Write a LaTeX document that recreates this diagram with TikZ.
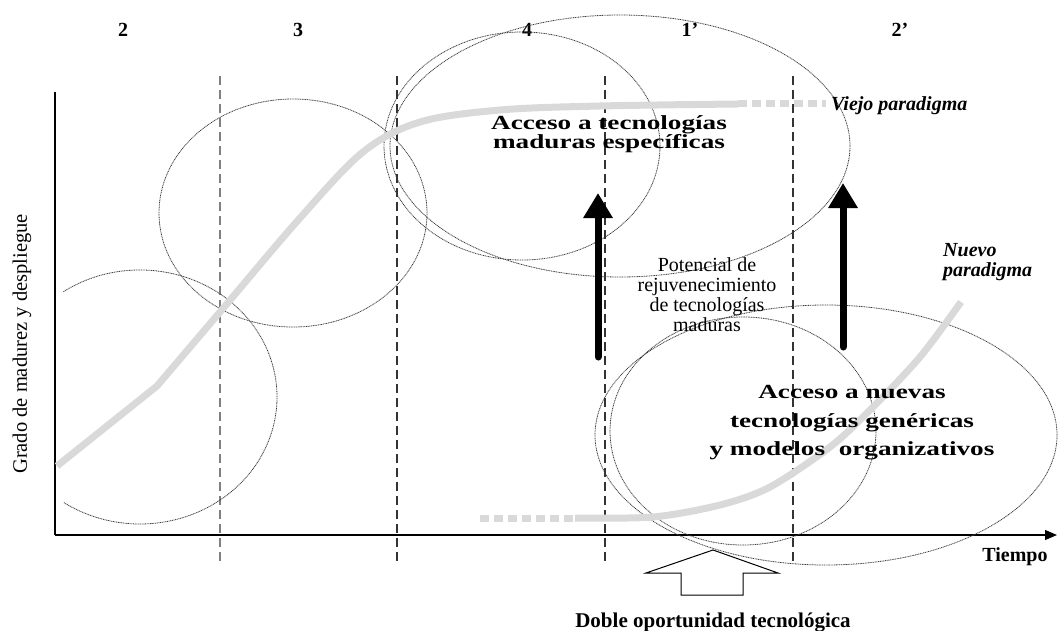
\documentclass[tikz,border=0pt]{standalone}
\usepackage{fontspec}
\setmainfont{Liberation Serif}
\newfontfamily\widefont[FakeStretch=1.36]{Liberation Serif}
\usepackage{xcolor}
\usepackage{tikz}
\usetikzlibrary{arrows.meta}
\definecolor{curvegray}{RGB}{217,217,217}
\definecolor{ringgray}{RGB}{60,60,60}

\begin{document}
\begin{tikzpicture}[
  x=1pt, y=-1pt,
  axis/.style={draw, line width=1.2pt},
  divider/.style={draw=black!80, line width=1.1pt, dash pattern=on 9pt off 5pt},
  ring/.style={draw=ringgray, line width=0.8pt, dash pattern=on 1pt off 0.7pt},
  paradigm/.style={draw=curvegray, line width=7pt},
  paradigmfade/.style={draw=curvegray, line width=7pt, dash pattern=on 9pt off 5pt},
  boost/.style={draw, line width=7pt, line cap=round, -{Triangle[length=25pt,width=28pt]}},
  hollow/.style={draw, fill=white, line width=1pt},
  phase/.style={font=\fontsize{20}{22}\selectfont\bfseries},
  tag/.style={font=\fontsize{20}{22}\selectfont\bfseries\itshape, align=left, inner sep=0pt},
  note/.style={font=\fontsize{20}{20}\selectfont, align=center, inner sep=0pt},
  big/.style={font=\fontsize{20}{19}\selectfont\widefont\bfseries, align=center, inner sep=0pt},
]
\useasboundingbox (0,0) rectangle (1059,631);

% axes
\coordinate (origin) at (55,535);
\coordinate (ytop) at (55,92);
\coordinate (xend) at (1057,535);
\draw[axis] (ytop) -- (origin);
\draw[axis, -{Triangle[length=12pt,width=10pt]}] (origin) -- (xend);

% phases
\draw[divider, draw=black!50] (220,76) -- (220,564);
\foreach \x in {397,605,793}
  \draw[divider] (\x,76) -- (\x,564);
\node[phase] (p2) at (123,30) {2};
\node[phase] (p3) at (298,30) {3};
\node[phase] (p4) at (527,30) {4};
\node[phase] (p1b) at (690,30) {1’};
\node[phase] (p2b) at (900,30) {2’};

% rings
\draw[ring] ([shift={(124:137pt and 127pt)}]140,397) arc[start angle=124, end angle=-124, x radius=137pt, y radius=127pt];
\draw[ring] (293,213) ellipse [x radius=134pt, y radius=114pt];
\draw[ring] (522,146) ellipse [x radius=138pt, y radius=114pt];
\draw[ring] (620,146) ellipse [x radius=230pt, y radius=131pt];
\draw[ring] (743,431) ellipse [x radius=133pt, y radius=114pt];
\draw[ring] (826,435) ellipse [x radius=231pt, y radius=130pt];

% old paradigm
\coordinate (oldend) at (738,104);
\coordinate (oldfade) at (826,104);
\draw[paradigm] (57,466) -- plot[smooth, tension=0.55] coordinates {(157,386) (220,312) (300,218) (363,152) (420,122) (500,110) (600,106) (738,104)};
\draw[paradigmfade] (oldend) -- (oldfade);
\node[tag, anchor=west] (viejo) at (831,106) {Viejo paradigma};

% new paradigm
\coordinate (newfade) at (480,518);
\coordinate (newstart) at (575,518);
\draw[paradigmfade] (newfade) -- (newstart);
\draw[paradigm] plot[smooth] coordinates {(575,518) (653,517) (720,505) (770,487) (830,447) (870,410) (920,357) (961,302)};
\node[tag, anchor=west] (nuevo) at (943,262) {Nuevo\\[-2pt]paradigma};

% boosts
\coordinate (b1s) at (598,357);
\coordinate (b1e) at (598,193);
\coordinate (b2s) at (843,347);
\coordinate (b2e) at (843,183);
\draw[boost] (b1s) -- (b1e);
\draw[boost] (b2s) -- (b2e);

\node[note] (pot) at (707,295) {Potencial de\\rejuvenecimiento\\de tecnologías\\maduras};
\node[big] (mad) at (609,134) {Acceso a tecnologías\\maduras específicas};
\node[big, font=\fontsize{20}{28.5}\selectfont\widefont\bfseries] (gen) at (852,423) {Acceso a nuevas\\tecnologías genéricas\\y modelos\ \ organizativos};

% double chance
\draw[hollow] (681,595) -- (681,573) -- (646,573) -- (713,550) -- (778,573) -- (743,573) -- (743,595) -- cycle;
\node[phase, font=\fontsize{21}{22}\selectfont\bfseries] (doble) at (713,623) {Doble oportunidad tecnológica};
\node[phase] (tiempo) at (1015,557) {Tiempo};
\node[note, font=\fontsize{20.5}{20}\selectfont, rotate=90] (grado) at (22,344) {Grado de madurez y despliegue};
\end{tikzpicture}
\end{document}
